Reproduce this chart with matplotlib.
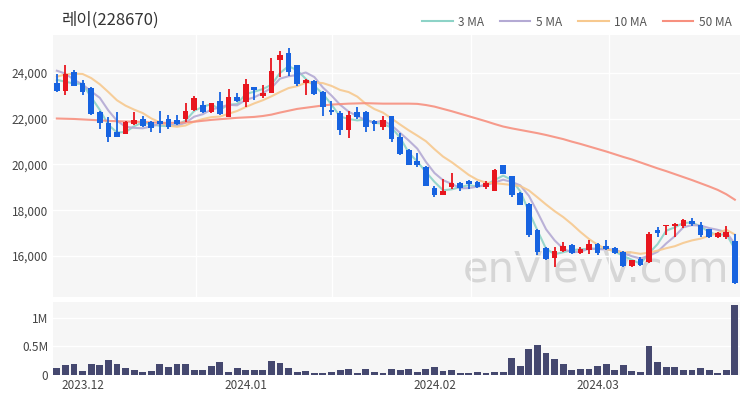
import numpy as np
import pandas as pd
import matplotlib
matplotlib.use('Agg')
from matplotlib import pyplot as plt
from matplotlib.lines import Line2D
from matplotlib.ticker import FuncFormatter

# daily candles, 2023-11-28 .. 2024-03-26
open_ = [23550, 23230, 24060, 23560, 23330, 22300, 21830, 21400, 21350, 21770,
         21990, 21860, 21880, 21980, 21950, 21980, 22390, 22590, 22310, 22760,
         22090, 22970, 22720, 23370, 23000, 23140, 24570, 24860, 24340, 23550,
         23640, 23190, 22390, 22240, 21510, 22300, 22300, 21920, 21660, 22120,
         21190, 20640, 20140, 19880, 18970, 18680, 19010, 19180, 19300, 19230,
         19010, 18860, 19960, 19480, 18750, 18280, 17150, 16350, 15930, 16200,
         16460, 16130, 16270, 16540, 16430, 16350, 16160, 15550, 15850, 15740,
         17150, 17290, 17320, 17290, 17550, 17370, 17160, 16830, 16830, 16650]
high = [23960, 24360, 24130, 23690, 23370, 22340, 22090, 22310, 21880, 22310,
        22140, 21900, 22360, 22150, 22150, 22700, 23010, 22780, 22690, 23160,
        23300, 23130, 23740, 23370, 23490, 24650, 24950, 25090, 24340, 23740,
        23690, 23230, 22790, 22360, 22330, 22500, 22330, 21950, 22140, 22140,
        21370, 20670, 20490, 19940, 19070, 19370, 19640, 19230, 19330, 19270,
        19300, 19810, 19960, 19480, 18790, 18310, 17180, 16390, 16390, 16610,
        16510, 16390, 16680, 16570, 16710, 16390, 16200, 15840, 15950, 17050,
        17260, 17370, 17440, 17630, 17670, 17480, 17190, 17050, 17290, 16940]
low = [23160, 23040, 23420, 23040, 22150, 21530, 20990, 21190, 21340, 21730,
       21630, 21410, 21380, 21530, 21730, 21860, 22360, 22270, 22240, 22180,
       22070, 22720, 22530, 22820, 22910, 23110, 23840, 23880, 23450, 23040,
       23040, 22110, 22180, 21290, 21160, 21990, 21410, 21480, 21510, 21000,
       20420, 19960, 19910, 19040, 18570, 18650, 18940, 18860, 18940, 18980,
       18910, 18840, 19590, 18600, 18210, 16830, 16060, 15810, 15520, 16170,
       16070, 16070, 16100, 16030, 16270, 16100, 15520, 15520, 15580, 15690,
       16830, 16900, 16830, 17220, 17290, 16830, 16800, 16800, 16730, 14790]
close = [23200, 23960, 23450, 23160, 22210, 21800, 21190, 21210, 21850, 21960,
         21700, 21600, 21770, 21660, 21750, 22360, 22910, 22310, 22690, 22200,
         22940, 22790, 23500, 23260, 23130, 24070, 24800, 24030, 23520, 23690,
         23080, 22500, 22280, 21510, 22180, 22090, 21630, 21750, 21960, 21120,
         20440, 19980, 19960, 19080, 18680, 18860, 19200, 18970, 19130, 19000,
         19210, 19740, 19590, 18650, 18240, 16930, 16170, 15850, 16220, 16420,
         16130, 16320, 16510, 16130, 16320, 16140, 15550, 15810, 15620, 16940,
         17000, 17370, 17390, 17580, 17410, 16900, 16830, 17000, 17070, 14830]
volume = [120000, 180000, 195000, 75000, 200000, 180000, 260000, 195000, 130000, 85000,
          55000, 70000, 200000, 140000, 200000, 195000, 95000, 80000, 150000, 230000,
          50000, 130000, 85000, 85000, 95000, 250000, 215000, 120000, 60000, 70000,
          40000, 40000, 50000, 80000, 100000, 35000, 100000, 45000, 40000, 100000,
          90000, 100000, 60000, 100000, 135000, 70000, 90000, 40000, 40000, 55000,
          40000, 55000, 55000, 300000, 160000, 450000, 530000, 380000, 280000, 190000,
          90000, 110000, 100000, 160000, 190000, 90000, 180000, 70000, 60000, 510000,
          230000, 140000, 140000, 90000, 90000, 120000, 90000, 35000, 90000, 1230000]
ma50 = [22010, 22000, 21990, 21970, 21950, 21930, 21910, 21890, 21880, 21870,
        21860, 21840, 21820, 21820, 21820, 21840, 21870, 21910, 21950, 21980,
        22010, 22040, 22060, 22080, 22120, 22180, 22270, 22350, 22430, 22480,
        22530, 22580, 22620, 22640, 22660, 22670, 22680, 22670, 22660, 22660,
        22660, 22660, 22650, 22600, 22530, 22430, 22330, 22220, 22110, 22000,
        21890, 21770, 21660, 21580, 21510, 21440, 21370, 21290, 21200, 21110,
        21000, 20900, 20790, 20680, 20570, 20450, 20330, 20220, 20090, 19960,
        19830, 19710, 19580, 19450, 19320, 19180, 19040, 18890, 18700, 18460]
# closes before the first candle, needed for the short averages
warmup_close = [23000, 23100, 23300, 24000, 24500, 24600, 24800, 24200, 23700]

month_pos = [3, 22, 44, 63]
month_labels = ['2023.12', '2024.01', '2024.02', '2024.03']

plt.rcParams['font.family'] = ['Noto Sans CJK KR', 'DejaVu Sans']

all_close = pd.Series(warmup_close + close, dtype=float)
n0 = len(warmup_close)
ma3 = all_close.rolling(3).mean().iloc[n0:].values
ma5 = all_close.rolling(5).mean().iloc[n0:].values
ma10 = all_close.rolling(10).mean().iloc[n0:].values

o = np.array(open_)
h = np.array(high)
l = np.array(low)
c = np.array(close)
x = np.arange(len(c))

RED = '#e8161e'
BLUE = '#1763e0'
colors = np.where(c >= o, RED, BLUE)
ma_colors = ['#8dd3c7', '#b4aad4', '#f7c98f', '#f7907f']

fig = plt.figure(figsize=(7.5, 4), dpi=100)
ax = fig.add_axes([53 / 750, 1 - 297 / 400, 687 / 750, 262 / 400])
axv = fig.add_axes([53 / 750, 1 - 375 / 400, 687 / 750, 73 / 400], sharex=ax)

for a in (ax, axv):
    a.set_facecolor('#f6f6f6')
    for s in a.spines.values():
        s.set_visible(False)
    a.tick_params(length=0, labelsize=8.5, labelcolor='#444')
    a.set_axisbelow(True)

# watermark
ax.text(0.79, 0.105, 'enVievV.com', transform=ax.transAxes, ha='center', va='center',
        fontsize=30, color='#d6d6d6', family='DejaVu Sans', zorder=0)

# moving averages
for vals, col in zip([ma3, ma5, ma10, ma50], ma_colors):
    ax.plot(x, vals, color=col, lw=1.5, alpha=0.9, zorder=2)

# candles
ax.vlines(x, l, h, colors=colors, lw=1.3, zorder=3)
body = np.maximum(np.abs(c - o), 40)
ax.bar(x, body, bottom=np.minimum(o, c), width=0.66, color=colors, zorder=4)

ax.set_xlim(-0.45, 79.6)
ax.set_ylim(14207, 25661)
ax.set_yticks([16000, 18000, 20000, 22000, 24000])
ax.yaxis.set_major_formatter(FuncFormatter(lambda v, p: f'{int(v):,}'))
ax.grid(axis='y', color='white', lw=1)
for gx in [16.2, 32.1, 48.3, 64.3]:
    ax.axvline(gx, color='white', lw=1, zorder=0.5)
ax.tick_params(labelbottom=False)

# volume
axv.bar(x, volume, width=0.8, color='#45486f', zorder=3)
axv.set_ylim(0, 1280000)
axv.set_yticks([0, 500000, 1000000])
axv.yaxis.set_major_formatter(FuncFormatter(lambda v, p: '0' if v == 0 else f'{v / 1e6:g}M'))
axv.grid(axis='y', color='white', lw=1)
axv.set_xticks(month_pos, month_labels)
axv.tick_params(axis='x', pad=3)

fig.text(62 / 750, 1 - 20 / 400, '레이(228670)', fontsize=12, va='center', color='#333')

handles = [Line2D([], [], color=col, lw=1.5) for col in ma_colors]
fig.legend(handles, ['3 MA', '5 MA', '10 MA', '50 MA'], loc='center right',
           bbox_to_anchor=(0.99, 1 - 22 / 400), ncol=4, frameon=False, fontsize=8.5,
           handlelength=2.6, handletextpad=0.5, columnspacing=1.3, labelcolor='#555')

fig.savefig('out.png', dpi=100)
